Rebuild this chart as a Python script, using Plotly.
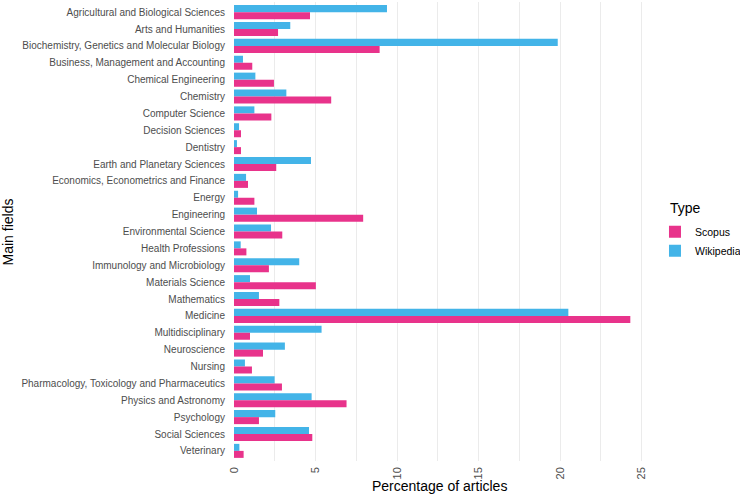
import plotly.graph_objects as go

categories = [
    "Agricultural and Biological Sciences", "Arts and Humanities",
    "Biochemistry, Genetics and Molecular Biology", "Business, Management and Accounting",
    "Chemical Engineering", "Chemistry", "Computer Science", "Decision Sciences",
    "Dentistry", "Earth and Planetary Sciences", "Economics, Econometrics and Finance",
    "Energy", "Engineering", "Environmental Science", "Health Professions",
    "Immunology and Microbiology", "Materials Science", "Mathematics", "Medicine",
    "Multidisciplinary", "Neuroscience", "Nursing",
    "Pharmacology, Toxicology and Pharmaceutics", "Physics and Astronomy",
    "Psychology", "Social Sciences", "Veterinary",
]
scopus = [4.66, 2.70, 8.93, 1.12, 2.45, 5.96, 2.29, 0.43, 0.43, 2.59, 0.86, 1.25,
          7.92, 2.96, 0.76, 2.14, 5.02, 2.78, 24.3, 0.98, 1.78, 1.10, 2.94, 6.90,
          1.53, 4.80, 0.59]
wikipedia = [9.38, 3.45, 19.85, 0.55, 1.31, 3.21, 1.25, 0.31, 0.18, 4.72, 0.74, 0.25,
             1.41, 2.27, 0.41, 4.00, 0.98, 1.53, 20.5, 5.37, 3.12, 0.67, 2.49, 4.76,
             2.53, 4.60, 0.33]
x_ticks = [0, 5, 10, 15, 20, 25]

font_family = "Liberation Sans, Arial, sans-serif"

fig = go.Figure()
fig.add_trace(go.Bar(y=categories, x=wikipedia, orientation="h", name="Wikipedia",
                     marker=dict(color="#43B4E8", line=dict(width=0)), legendrank=2))
fig.add_trace(go.Bar(y=categories, x=scopus, orientation="h", name="Scopus",
                     marker=dict(color="#E8338B", line=dict(width=0)), legendrank=1))

fig.update_layout(
    width=740, height=494,
    barmode="group", bargap=0.17, bargroupgap=0,
    plot_bgcolor="white", paper_bgcolor="white",
    margin=dict(l=234, r=95, t=2, b=33, autoexpand=False),
    font=dict(family=font_family, size=11, color="#4D4D4D"),
    legend=dict(
        x=1.0243, xanchor="left", y=0.531, yanchor="top",
        font=dict(size=10.5, color="black"),
        itemwidth=30, tracegroupgap=0,
    ),
    showlegend=True,
    annotations=[
        dict(text="Type", x=1.056, y=0.551, xref="paper", yref="paper",
             xanchor="left", yanchor="middle", showarrow=False,
             font=dict(size=14, color="black")),
        dict(text="Main fields", x=-0.55, y=0.5, xref="paper", yref="paper",
             xanchor="center", yanchor="middle", showarrow=False, textangle=-90,
             font=dict(size=14, color="black")),
        dict(text="Percentage of articles", x=0.5, y=-0.0545, xref="paper", yref="paper",
             xanchor="center", yanchor="middle", showarrow=False,
             font=dict(size=14, color="black")),
    ],
)
fig.update_xaxes(
    range=[0, 25.2], tickvals=x_ticks, ticktext=[str(v) for v in x_ticks],
    tickangle=-90, showgrid=True, gridcolor="#EBEBEB", gridwidth=1,
    minor=dict(dtick=2.5, tick0=0, showgrid=True, gridcolor="#EBEBEB", gridwidth=1),
    zeroline=False, showline=False, ticks="", automargin=False,
    ticklabelstandoff=3,
    tickfont=dict(size=11, color="#4D4D4D"),
)
fig.update_yaxes(
    categoryorder="array", categoryarray=categories,
    range=[len(categories) - 0.4, -0.6],
    showgrid=False, zeroline=False, showline=False, ticks="", automargin=False,
    ticklabelstandoff=8,
    tickfont=dict(size=10, color="#4D4D4D"),
)

fig.write_html("out.html", config={"displayModeBar": False},
               post_script="document.body.style.margin='0';")
